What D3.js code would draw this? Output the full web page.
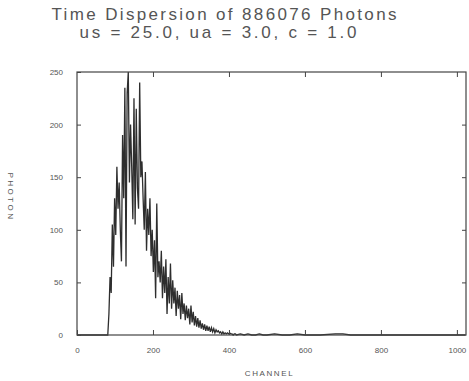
<!DOCTYPE html>
<html>
<head>
<meta charset="utf-8">
<script src="https://cdn.jsdelivr.net/npm/d3@7"></script>
<style>
  html, body { margin: 0; padding: 0; background: #fff; }
  svg { display: block; }
</style>
</head>
<body>
<svg id="chart" width="469" height="381"></svg>
<script>
// ---- data ----
const titleLines = ["Time Dispersion of 886076 Photons", "us = 25.0, ua = 3.0, c = 1.0"];
const xLabel = "CHANNEL";
const yLabel = "PHOTON";
const xTicks = [0, 200, 400, 600, 800, 1000];
const yTicks = [0, 50, 100, 150, 200, 250];

const channels = [
  0, 40, 78, 81, 84, 87, 90, 93, 96, 99, 102, 105, 108, 111, 114, 117, 120, 123, 126, 129,
  132, 135, 138, 141, 144, 147, 150, 153, 156, 159, 162, 165, 168, 171, 174, 177, 180, 183, 186, 189,
  192, 195, 198, 201, 204, 207, 210, 213, 216, 219, 222, 225, 228, 231, 234, 237, 240, 243, 246, 249,
  252, 255, 258, 261, 264, 267, 270, 273, 276, 279, 282, 285, 288, 291, 294, 297, 300, 303, 306, 309,
  312, 315, 318, 321, 324, 327, 330, 333, 336, 339, 342, 345, 348, 351, 354, 357, 360, 363, 366, 369,
  372, 375, 378, 381, 384, 387, 390, 393, 396, 399, 402, 405, 408, 411, 414, 417, 420, 430, 440, 450,
  460, 470, 480, 490, 500, 520, 540, 560, 580, 600, 640, 680, 700, 720, 760, 800, 850, 900, 950, 1000, 1023
];
const photons = [
  0, 0, 0, 0, 20, 55, 40, 105, 65, 130, 95, 160, 120, 145, 100, 70, 190, 130, 235, 65,
  230, 250, 145, 200, 160, 110, 225, 105, 215, 140, 120, 240, 150, 165, 130, 100, 155, 80, 120, 95,
  130, 75, 100, 60, 90, 35, 125, 55, 70, 50, 80, 35, 65, 40, 72, 20, 55, 30, 68, 25,
  52, 30, 45, 18, 42, 25, 38, 15, 40, 20, 30, 14, 28, 16, 25, 10, 28, 12, 22, 9,
  18, 8, 16, 7, 14, 6, 11, 5, 10, 4, 9, 4, 8, 3, 7, 3, 6, 2, 5, 3,
  4, 2, 3, 1, 3, 1, 2, 1, 2, 1, 2, 1, 1, 0, 1, 1, 0, 1, 0, 1,
  0, 0, 1, 0, 0, 1, 0, 0, 1, 0, 0, 1, 1, 0, 0, 0, 0, 0, 0, 0, 0
];

// ---- layout ----
const svg = d3.select("#chart");
const margin = { left: 77, right: 3, top: 72, bottom: 46 };
const W = 469, H = 381;
const x = d3.scaleLinear().domain([0, 1024]).range([margin.left, W - margin.right]);
const y = d3.scaleLinear().domain([0, 250]).range([H - margin.bottom, margin.top]);
const ink = "#2e2e2e";
const fontFam = "'Liberation Sans', Arial, Helvetica, sans-serif";

// title
const titlePos = [{ cx: 224, y: 20, len: 345 }, { cx: 218, y: 38, len: 277 }];
svg.selectAll("text.title").data(titleLines).join("text")
  .attr("class", "title")
  .attr("x", (d, i) => titlePos[i].cx - titlePos[i].len / 2)
  .attr("y", (d, i) => titlePos[i].y)
  .attr("textLength", (d, i) => titlePos[i].len)
  .attr("lengthAdjust", "spacing")
  .attr("font-family", fontFam)
  .attr("font-size", 17)
  .attr("fill", "#555")
  .text(d => d);

// data line
const data = channels.map((c, i) => ({ c, v: photons[i] }));
svg.append("path")
  .datum(data)
  .attr("fill", "none")
  .attr("stroke", ink)
  .attr("stroke-width", 1.3)
  .attr("d", d3.line().x(d => x(d.c)).y(d => y(d.v)));

// frame
svg.append("rect")
  .attr("x", x(0)).attr("y", y(250))
  .attr("width", x(1024) - x(0)).attr("height", y(0) - y(250))
  .attr("fill", "none").attr("stroke", "#444").attr("stroke-width", 1.2);

// axes with inward ticks
const axB = d3.axisBottom(x).tickValues(xTicks).tickSize(-5).tickPadding(12).tickFormat(d3.format("d"));
const axT = d3.axisTop(x).tickValues(xTicks.slice(1)).tickSize(-5).tickFormat("");
const axL = d3.axisLeft(y).tickValues(yTicks).tickSize(-4).tickPadding(14).tickFormat(d3.format("d"));
const axR = d3.axisRight(y).tickValues(yTicks.slice(1, -1)).tickSize(-4).tickFormat("");

function style(g) {
  g.select(".domain").remove();
  g.selectAll(".tick line").attr("stroke", "#444").attr("stroke-width", 1);
  g.selectAll(".tick text").attr("fill", "#555").attr("font-family", fontFam).attr("font-size", 8);
}
svg.append("g").attr("transform", `translate(0,${y(0)})`).call(axB).call(style);
svg.append("g").attr("transform", `translate(0,${y(250)})`).call(axT).call(style);
svg.append("g").attr("transform", `translate(${x(0)},0)`).call(axL).call(style);
svg.append("g").attr("transform", `translate(${x(1024)},0)`).call(axR).call(style);

// axis labels
svg.append("text")
  .attr("x", (x(0) + x(1024)) / 2 - 2).attr("y", 376)
  .attr("text-anchor", "middle")
  .attr("font-family", fontFam).attr("font-size", 8)
  .attr("letter-spacing", 1.6)
  .attr("fill", "#555")
  .text(xLabel);

svg.append("text")
  .attr("transform", `translate(8,197) rotate(90)`)
  .attr("text-anchor", "middle")
  .attr("font-family", fontFam).attr("font-size", 8)
  .attr("letter-spacing", 2.5)
  .attr("fill", "#555")
  .text(yLabel);
</script>
</body>
</html>
